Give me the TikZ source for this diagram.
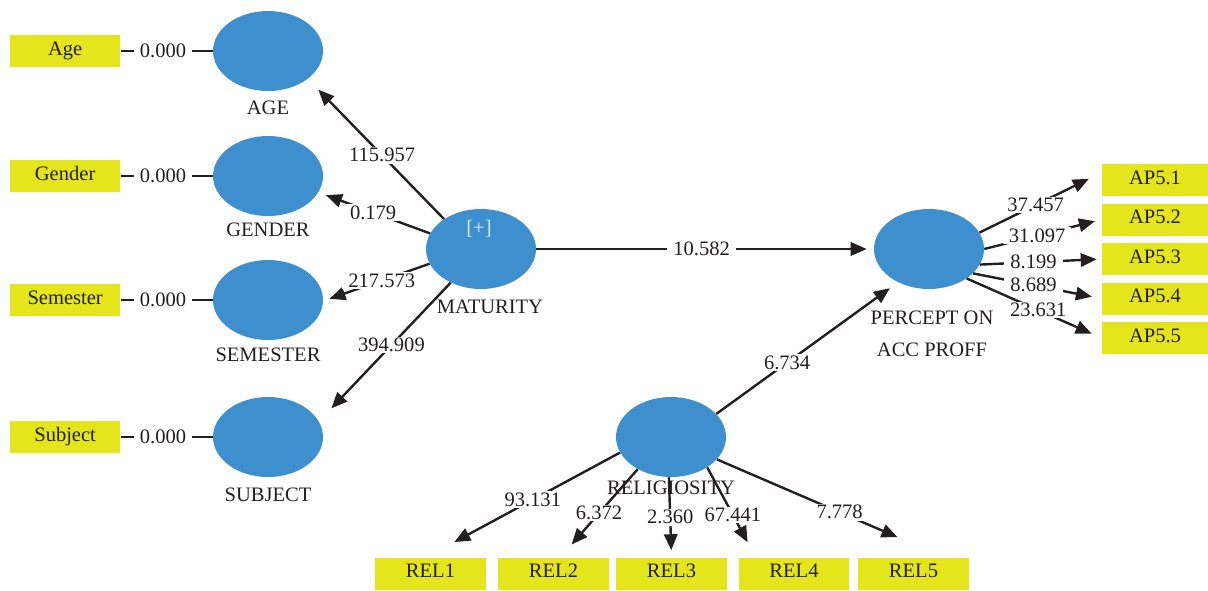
\documentclass[tikz,border=0pt]{standalone}
\usepackage{fontspec}
\setmainfont{Liberation Serif}
\usetikzlibrary{arrows.meta, positioning, shapes.geometric}
\definecolor{plsblue}{HTML}{3D8FCE}
\definecolor{plsyellow}{HTML}{E5E51C}
\definecolor{plsink}{HTML}{231F20}
\definecolor{plsplus}{HTML}{D9E9F6}
\tikzset{
  construct/.style = {ellipse, fill=plsblue, minimum width=82.5pt, minimum height=60pt, inner sep=0pt},
  cname/.style = {inner sep=0pt, text=plsink},
  indicator/.style = {rectangle, fill=plsyellow, minimum width=83pt, minimum height=24pt, inner sep=0pt, text height=0.6em, text depth=0pt, text=plsink},
  coef/.style = {fill=white, inner xsep=4.5pt, inner ysep=1pt, text=plsink},
  structarrow/.style = {line width=1.8pt, draw=plsink, -{Triangle[length=12pt,width=10pt]}},
  weightline/.style = {line width=1.9pt, draw=plsink}
}
\begin{document}
\begin{tikzpicture}[x=0.75pt, y=-0.75pt, font=\fontsize{15.4}{18}\selectfont]
  \useasboundingbox (0,0) rectangle (1208,590);

  % Constructs
  \node (age) [construct] at (268,51) {};
  \node (gender) [construct] at (268,176) {};
  \node (semester) [construct] at (268,300) {};
  \node (subject) [construct] at (268,437) {};
  \node (maturity) [construct] at (481,249) {};
  \node (percept) [construct] at (929,249) {};
  \node (religiosity) [construct] at (671,437) {};
  \node (matplus) [cname, text=plsplus] at (479,229) {[+]};

  % Construct names
  \node (agename) [cname, below=6.75pt of age] {AGE};
  \node (gendername) [cname, below=4.5pt of gender] {GENDER};
  \node (semestername) [cname, below=5.25pt of semester] {SEMESTER};
  \node (subjectname) [cname, below=7.5pt of subject] {SUBJECT};
  \node (maturityname) [cname, below=7.5pt of maturity, xshift=6.75pt] {MATURITY};
  \node (perceptname) [cname, below=15.75pt of percept, xshift=2.25pt] {PERCEPT ON};
  \node (perceptname2) [cname, below=13.5pt of perceptname] {ACC PROFF};
  \node (religiosityname) [cname, below=2.25pt of religiosity] {RELIGIOSITY};

  % Indicators
  \node (agebox) [indicator, left=69pt of age] {Age};
  \node (genderbox) [indicator, left=69pt of gender] {Gender};
  \node (semesterbox) [indicator, left=69pt of semester] {Semester};
  \node (subjectbox) [indicator, left=69pt of subject] {Subject};

  \node (ap1) [indicator, minimum width=79.5pt] at (1155,180) {AP5.1};
  \node (ap2) [indicator, minimum width=79.5pt, below=5.25pt of ap1] {AP5.2};
  \node (ap3) [indicator, minimum width=79.5pt, below=5.25pt of ap2] {AP5.3};
  \node (ap4) [indicator, minimum width=79.5pt, below=5.25pt of ap3] {AP5.4};
  \node (ap5) [indicator, minimum width=79.5pt, below=5.25pt of ap4] {AP5.5};

  \node (rel1) [indicator] at (430.5,573.5) {REL1};
  \node (rel2) [indicator] at (553.5,573.5) {REL2};
  \node (rel3) [indicator] at (671.5,573.5) {REL3};
  \node (rel4) [indicator] at (794,573.5) {REL4};
  \node (rel5) [indicator] at (913.5,573.5) {REL5};

  % Single-item weights
  \draw[weightline] (agebox) -- node[coef, pos=0.46] {0.000} (age);
  \draw[weightline] (genderbox) -- node[coef, pos=0.46] {0.000} (gender);
  \draw[weightline] (semesterbox) -- node[coef, pos=0.46] {0.000} (semester);
  \draw[weightline] (subjectbox) -- node[coef, pos=0.46] {0.000} (subject);

  % Second-order construct
  \draw[structarrow, shorten >=11.25pt] (maturity.141) -- node[coef, pos=0.455] {115.957} (age.-35);
  \draw[structarrow, shorten >=6pt] (maturity.163) -- node[coef, pos=0.51] {0.179} (gender.-18);
  \draw[structarrow, shorten >=4.9pt] (maturity.196) -- node[coef, pos=0.45] {217.573} (semester.-1);
  \draw[structarrow, shorten >=13.5pt] (maturity.228) -- node[coef, pos=0.45] {394.909} (subject.17);

  % Structural paths
  \draw[structarrow, shorten >=5.25pt] (maturity) -- node[coef, pos=0.49] {10.582} (percept);
  \draw[structarrow, shorten >=7.5pt] (religiosity.27) -- node[coef, pos=0.39] {6.734} (percept.227);

  % Outer loadings
  \draw[structarrow, shorten >=10.8pt] (percept.18) -- node[coef, pos=0.46] {37.457} (ap1.172);
  \draw[structarrow, shorten >=5.25pt] (percept.0) -- node[coef, pos=0.45] {31.097} (ap2.west);
  \draw[structarrow, shorten >=3.75pt] (percept.-17) -- node[coef, pos=0.44] {8.199} (ap3.west);
  \draw[structarrow, shorten >=7.5pt] (percept.-29) -- node[coef, pos=0.47] {8.689} (ap4.west);
  \draw[structarrow, shorten >=8.25pt] (percept.-38) -- node[coef, pos=0.53] {23.631} (ap5.west);

  \draw[structarrow, shorten >=24pt] (religiosity.197) -- node[coef, pos=0.45] {93.131} (rel1.105);
  \draw[structarrow, shorten >=12.75pt] (religiosity.224) -- node[coef, pos=0.5] {6.372} (rel2.67);
  \draw[structarrow, shorten >=5.25pt] (religiosity.267) -- node[coef, pos=0.5] {2.360} (rel3.north);
  \draw[structarrow, shorten >=12.75pt] (religiosity.320) -- node[coef, pos=0.53] {67.441} (rel4.157);
  \draw[structarrow, shorten >=38pt] (religiosity.334) -- node[coef, pos=0.54] {7.778} (rel5.28);
\end{tikzpicture}
\end{document}
